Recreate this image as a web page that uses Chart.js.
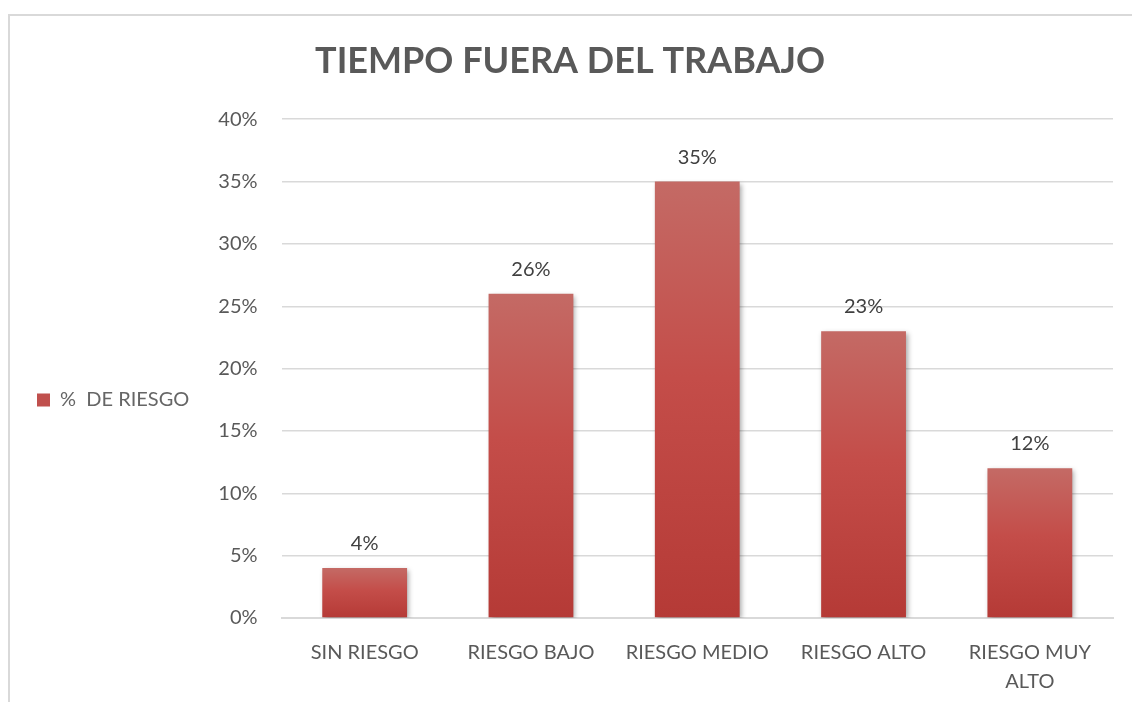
<!DOCTYPE html>
<html>
<head>
  <title>Tiempo fuera del trabajo</title>
  <style>
    body {
      margin: 0;
      padding: 0;
      background: #ffffff;
      overflow: hidden;
    }

    #frame {
      position: absolute;
      left: 8px;
      top: 14px;
      width: 1140px;
      height: 700px;
      border: 2px solid #d9d9d9;
    }

    #wrap {
      position: absolute;
      left: 0;
      top: 0;
      width: 1132px;
      height: 702px;
    }
  </style>
</head>
<body>

  <div id="frame"></div>
  <div id="wrap">
    <canvas id="graph"></canvas>
  </div>

  <script src="https://cdn.jsdelivr.net/npm/chart.js"></script>
  <script>
    // Chart data
    const categories = ['SIN RIESGO', 'RIESGO BAJO', 'RIESGO MEDIO', 'RIESGO ALTO', ['RIESGO MUY', 'ALTO']];
    const riskValues = [4, 26, 35, 23, 12];
    const seriesName = '%  DE RIESGO';
    const chartTitle = 'TIEMPO FUERA DEL TRABAJO';

    const textColor = '#595959';
    const fontFamily = 'Lato, "Open Sans", sans-serif';

    // vertical gradient for each bar, from its top to the zero line
    function barGradient(context) {
      const chart = context.chart;
      const yScale = chart.scales.y;
      if (!yScale || context.raw === undefined) {
        return '#c0504d';
      }
      const top = yScale.getPixelForValue(context.raw);
      const bottom = yScale.getPixelForValue(0);
      if (!isFinite(top) || !isFinite(bottom) || top === bottom) {
        return '#c0504d';
      }
      const g = chart.ctx.createLinearGradient(0, top, 0, bottom);
      g.addColorStop(0, '#c46a65');
      g.addColorStop(0.45, '#c44d49');
      g.addColorStop(1, '#b53a36');
      return g;
    }

    // soft drop shadow under the bars
    const shadowPlugin = {
      id: 'barShadow',
      beforeDatasetsDraw(chart) {
        const ctx = chart.ctx;
        ctx.save();
        ctx.shadowColor = 'rgba(0, 0, 0, 0.35)';
        ctx.shadowBlur = 5;
        ctx.shadowOffsetX = 2;
        ctx.shadowOffsetY = 2;
      },
      afterDatasetsDraw(chart) {
        chart.ctx.restore();
      }
    };

    // value labels above the bars
    const valueLabels = {
      id: 'valueLabels',
      afterDatasetsDraw(chart) {
        const ctx = chart.ctx;
        const meta = chart.getDatasetMeta(0);
        ctx.save();
        ctx.font = '20px ' + fontFamily;
        ctx.fillStyle = '#404040';
        ctx.textAlign = 'center';
        ctx.textBaseline = 'alphabetic';
        meta.data.forEach((bar, i) => {
          ctx.fillText(riskValues[i] + '%', bar.x, bar.y - 18);
        });
        ctx.restore();
      }
    };

    const ctx = document.getElementById('graph').getContext('2d');
    new Chart(ctx, {
      type: 'bar',
      data: {
        labels: categories,
        datasets: [{
          label: seriesName,
          data: riskValues,
          backgroundColor: barGradient,
          borderWidth: 0,
          barPercentage: 0.51,
          categoryPercentage: 1.0
        }]
      },
      plugins: [shadowPlugin, valueLabels],
      options: {
        responsive: true,
        maintainAspectRatio: false,
        animation: false,
        layout: {
          padding: { left: 27, right: 19, top: 14, bottom: -6 }
        },
        plugins: {
          title: {
            display: true,
            text: chartTitle,
            color: textColor,
            font: { family: fontFamily, size: 36, weight: 'bold' },
            padding: { top: 26, bottom: 36 }
          },
          legend: {
            position: 'left',
            title: {
              display: true,
              text: ' ',
              font: { family: fontFamily, size: 20 },
              padding: { top: 0, bottom: 54 }
            },
            labels: {
              color: textColor,
              font: { family: fontFamily, size: 20 },
              boxWidth: 13,
              boxHeight: 13,
              padding: 10,
              generateLabels() {
                return [{
                  text: seriesName,
                  fillStyle: '#c0504d',
                  strokeStyle: '#c0504d',
                  lineWidth: 0,
                  hidden: false,
                  datasetIndex: 0
                }];
              }
            }
          },
          tooltip: { enabled: false }
        },
        scales: {
          x: {
            grid: { display: false },
            border: { color: '#d9d9d9', width: 2 },
            ticks: {
              color: textColor,
              font: { family: fontFamily, size: 20, lineHeight: 1.45 },
              padding: 12,
              maxRotation: 0,
              autoSkip: false
            }
          },
          y: {
            min: 0,
            max: 40,
            afterFit: scale => { scale.width -= 5; },
            grid: { color: '#d9d9d9', lineWidth: 1.5, drawTicks: false },
            border: { display: false },
            ticks: {
              stepSize: 5,
              color: textColor,
              font: { family: fontFamily, size: 20 },
              padding: 24,
              callback: value => value + '%'
            }
          }
        }
      }
    });
  </script>
</body>
</html>
